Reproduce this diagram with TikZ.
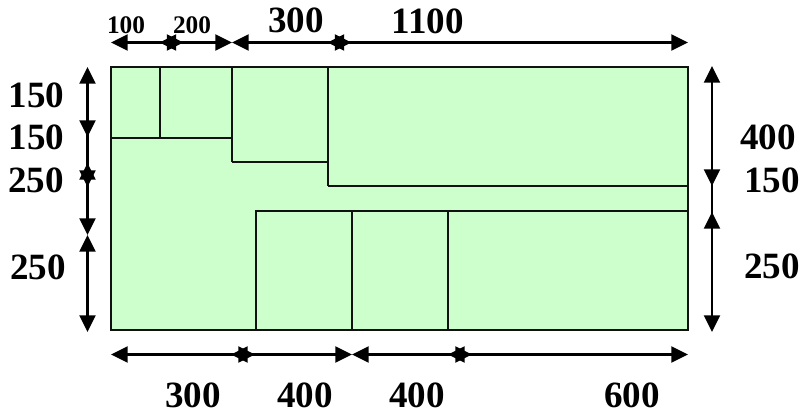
\documentclass[tikz,border=0pt]{standalone}
\usepackage{fontspec}
\setmainfont{Liberation Serif}
\usetikzlibrary{arrows.meta}
\definecolor{plate}{HTML}{CCFFCC}
\definecolor{edgeline}{HTML}{111111}
\tikzset{
  tipshape/.tip={Triangle[length=12.5pt,width=12pt]},
  dimboth/.style={line width=1.7pt,black,{tipshape}-{tipshape}},
  dimend/.style={line width=1.7pt,black,-{tipshape}},
  dimplain/.style={line width=1.7pt,black},
  cut/.style={line width=1.5pt,edgeline},
  big/.style={inner sep=0pt,font=\fontsize{27.8}{30}\selectfont\bfseries},
  small/.style={inner sep=0pt,font=\fontsize{19}{21}\selectfont\bfseries}
}
\begin{document}
\begin{tikzpicture}[x=0.75pt,y=-0.75pt]
\useasboundingbox (0,0) rectangle (800,414);
\fill[white] (0,0) rectangle (800,414);
% plate
\fill[plate] (111,66.5) rectangle (688,330);
\draw[cut] (111,66.5) rectangle (688,330);
\draw[cut] (160,66.5) -- (160,138);
\draw[cut] (232,66.5) -- (232,162);
\draw[cut] (328,66.5) -- (328,186);
\draw[cut] (111,138) -- (232,138);
\draw[cut] (232,162) -- (328,162);
\draw[cut] (328,186) -- (688,186);
\draw[cut] (256,330) -- (256,211) -- (688,211);
\draw[cut] (352,211) -- (352,330);
\draw[cut] (448,211) -- (448,330);
% top dimension points
\coordinate (ta) at (111,42.5);
\coordinate (tb) at (183.5,42.5);
\coordinate (tc) at (159.5,42.5);
\coordinate (td) at (232,42.5);
\coordinate (te) at (351.5,42.5);
\coordinate (tf) at (327.5,42.5);
\coordinate (tg) at (688,42.5);
\draw[dimboth] (ta) -- (tb);
\draw[dimboth] (tc) -- (td);
\draw[dimboth] (td) -- (te);
\draw[dimboth] (tf) -- (tg);
% left dimension points
\coordinate (la) at (87.5,67);
\coordinate (lb) at (87.5,137);
\coordinate (lj) at (87.5,128);
\coordinate (lc) at (87.5,187);
\coordinate (ld) at (87.5,163);
\coordinate (le) at (87.5,235);
\coordinate (lf) at (87.5,332);
\draw[dimboth] (la) -- (lb);
\draw[dimend] (lj) -- (lc);
\draw[dimboth] (ld) -- (le);
\draw[dimboth] (le) -- (lf);
% right dimension points
\coordinate (ra) at (712,66);
\coordinate (rb) at (712,186);
\coordinate (rj) at (712,178);
\coordinate (rc) at (712,212);
\coordinate (rk) at (712,220);
\coordinate (rd) at (712,332);
\draw[dimboth] (ra) -- (rb);
\draw[dimplain] (rj) -- (rk);
\draw[dimboth] (rc) -- (rd);
% bottom dimension points
\coordinate (ba) at (111,354.5);
\coordinate (bb) at (255,354.5);
\coordinate (bc) at (231,354.5);
\coordinate (bd) at (352,354.5);
\coordinate (be) at (472,354.5);
\coordinate (bf) at (448,354.5);
\coordinate (bg) at (688,354.5);
\draw[dimboth] (ba) -- (bb);
\draw[dimboth] (bc) -- (bd);
\draw[dimboth] (bd) -- (be);
\draw[dimboth] (bf) -- (bg);
% labels
\node[small] (t1) at (126,25) {100};
\node[small] (t2) at (192,25) {200};
\node[big] (t3) at (296,20.5) {300};
\node[big] (t4) at (428,21) {1100};
\node[big] (l1) at (36.5,95) {150};
\node[big] (l2) at (36.5,137) {150};
\node[big] (l3) at (36,180) {250};
\node[big] (l4) at (38,267) {250};
\node[big] (r1) at (768,137) {400};
\node[big] (r2) at (772,180) {150};
\node[big] (r3) at (772,266) {250};
\node[big] (b1) at (193,395) {300};
\node[big] (b2) at (305,395) {400};
\node[big] (b3) at (417,395) {400};
\node[big] (b4) at (632,395) {600};
\end{tikzpicture}
\end{document}
